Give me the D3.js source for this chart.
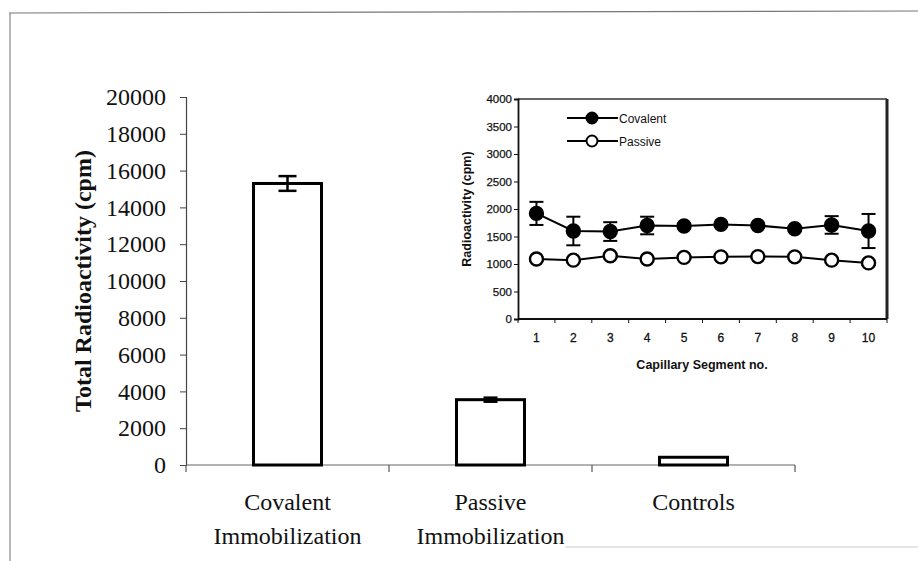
<!DOCTYPE html>
<html>
<head>
<meta charset="utf-8">
<script src="https://cdn.jsdelivr.net/npm/d3@7"></script>
<style>
  html, body { margin: 0; padding: 0; background: #fff; }
  svg { display: block; }
</style>
</head>
<body>
<svg id="chart" width="918" height="561"></svg>
<script>
// Main bar chart: total radioactivity per immobilization method
const barCategories = [["Covalent", "Immobilization"], ["Passive", "Immobilization"], ["Controls"]];
const barValues = [15300, 3550, 420];
const barErrors = [400, 110, 0];
const barTicks = [0, 2000, 4000, 6000, 8000, 10000, 12000, 14000, 16000, 18000, 20000];

// Inset: radioactivity along the capillary segments
const segments = [1, 2, 3, 4, 5, 6, 7, 8, 9, 10];
const covalentValues = [1920, 1600, 1590, 1700, 1690, 1720, 1700, 1640, 1710, 1600];
const covalentErrors = [210, 260, 170, 160, 40, 40, 40, 30, 160, 310];
const passiveValues = [1090, 1070, 1150, 1090, 1120, 1130, 1135, 1130, 1070, 1020];
const passiveErrors = [30, 30, 30, 30, 30, 30, 30, 30, 30, 30];
const insetTicks = [0, 500, 1000, 1500, 2000, 2500, 3000, 3500, 4000];

const svg = d3.select("#chart");
const serif = "'Liberation Serif', 'Times New Roman', serif";
const sans = "'Liberation Sans', Arial, sans-serif";

// Page frame
svg.append("line").attr("x1", 9).attr("x2", 918).attr("y1", 13).attr("y2", 11)
  .attr("stroke", "#777").attr("stroke-width", 1.2);
svg.append("line").attr("x1", 10).attr("x2", 10).attr("y1", 13).attr("y2", 561)
  .attr("stroke", "#888").attr("stroke-width", 1.2);
svg.append("line").attr("x1", 565).attr("x2", 918).attr("y1", 547).attr("y2", 547)
  .attr("stroke", "#e6e6e6").attr("stroke-width", 2);

// ---------- main chart ----------
const main = { left: 186, right: 795, top: 97, bottom: 465 };
const x = d3.scaleBand().domain(d3.range(barCategories.length))
  .range([main.left, main.right]).padding(0);
const y = d3.scaleLinear().domain([0, 20000]).range([main.bottom, main.top]);
const barW = x.bandwidth() * 0.335;

const yAxis = svg.append("g").attr("transform", `translate(${main.left},0)`)
  .call(d3.axisLeft(y).tickValues(barTicks).tickSize(6).tickPadding(14).tickFormat(d3.format("d")));
yAxis.select(".domain").attr("stroke", "#444").attr("stroke-width", 1.2);
yAxis.selectAll(".tick line").attr("stroke", "#444");
yAxis.selectAll("text").attr("font-family", serif).attr("font-size", 24).attr("fill", "#111");

const xAxis = svg.append("g").attr("transform", `translate(0,${main.bottom})`);
xAxis.append("line").attr("x1", main.left).attr("x2", main.right)
  .attr("stroke", "#666").attr("stroke-width", 1.2);
xAxis.selectAll("line.tk").data(d3.range(barCategories.length + 1)).join("line")
  .attr("class", "tk")
  .attr("x1", i => main.left + i * x.step()).attr("x2", i => main.left + i * x.step())
  .attr("y1", 0).attr("y2", 7).attr("stroke", "#555").attr("stroke-width", 1.2);

svg.selectAll("rect.bar").data(barValues).join("rect")
  .attr("class", "bar")
  .attr("x", (d, i) => x(i) + x.bandwidth() / 2 - barW / 2)
  .attr("y", d => y(d))
  .attr("width", barW)
  .attr("height", d => y(0) - y(d))
  .attr("fill", "#fff").attr("stroke", "#000").attr("stroke-width", 3);

const errG = svg.append("g").attr("stroke", "#000").attr("stroke-width", 2.5);
barValues.forEach((v, i) => {
  const e = barErrors[i];
  if (!e) return;
  const cx = x(i) + x.bandwidth() / 2;
  const cw = i === 0 ? 9 : 7;
  errG.append("line").attr("x1", cx).attr("x2", cx).attr("y1", y(v + e)).attr("y2", y(v - e));
  errG.append("line").attr("x1", cx - cw).attr("x2", cx + cw).attr("y1", y(v + e)).attr("y2", y(v + e));
  errG.append("line").attr("x1", cx - cw).attr("x2", cx + cw).attr("y1", y(v - e)).attr("y2", y(v - e));
});

barCategories.forEach((lines, i) => {
  const t = svg.append("text").attr("x", x(i) + x.bandwidth() / 2).attr("y", 510)
    .attr("text-anchor", "middle").attr("font-family", serif).attr("font-size", 24).attr("fill", "#111");
  lines.forEach((ln, k) => t.append("tspan").attr("x", x(i) + x.bandwidth() / 2).attr("dy", k ? 34 : 0).text(ln));
});

svg.append("text")
  .attr("transform", `translate(91,${(main.top + main.bottom) / 2}) rotate(-90)`)
  .attr("text-anchor", "middle").attr("font-family", serif).attr("font-size", 24)
  .attr("font-weight", "bold").attr("fill", "#111")
  .text("Total Radioactivity (cpm)");

// ---------- inset ----------
const ins = { left: 518, right: 887, top: 99, bottom: 319 };
const ix = d3.scaleBand().domain(segments).range([ins.left, ins.right]);
const iy = d3.scaleLinear().domain([0, 4000]).range([ins.bottom, ins.top]);
const g = svg.append("g");

// plot-area frame
g.append("line").attr("x1", ins.left).attr("x2", ins.right).attr("y1", ins.top).attr("y2", ins.top)
  .attr("stroke", "#333").attr("stroke-width", 1.5);
g.append("line").attr("x1", ins.right).attr("x2", ins.right).attr("y1", ins.top).attr("y2", ins.bottom)
  .attr("stroke", "#222").attr("stroke-width", 3);

const iyAxis = g.append("g").attr("transform", `translate(${ins.left},0)`)
  .call(d3.axisLeft(iy).tickValues(insetTicks).tickSize(4).tickPadding(2).tickFormat(d3.format("d")));
iyAxis.select(".domain").attr("stroke", "#111").attr("stroke-width", 1.8);
iyAxis.selectAll(".tick line").attr("stroke", "#111");
iyAxis.selectAll("text").attr("font-family", sans).attr("font-size", 11.5).attr("fill", "#111")
  .attr("stroke", "#111").attr("stroke-width", 0.25);

const ixAxis = g.append("g").attr("transform", `translate(0,${ins.bottom})`);
ixAxis.append("line").attr("x1", ins.left).attr("x2", ins.right).attr("stroke", "#111").attr("stroke-width", 1.8);
ixAxis.selectAll("line.tk").data(d3.range(segments.length + 1)).join("line")
  .attr("class", "tk")
  .attr("x1", i => ins.left + i * ix.step()).attr("x2", i => ins.left + i * ix.step())
  .attr("y1", 0).attr("y2", 4).attr("stroke", "#111");
ixAxis.selectAll("text").data(segments).join("text")
  .attr("x", d => ix(d) + ix.bandwidth() / 2).attr("y", 23)
  .attr("text-anchor", "middle").attr("font-family", sans).attr("font-size", 12)
  .attr("fill", "#111").attr("stroke", "#111").attr("stroke-width", 0.3).text(d => d);

g.append("text").attr("x", 702).attr("y", 369)
  .attr("text-anchor", "middle").attr("font-family", sans).attr("font-size", 12.5)
  .attr("font-weight", "bold").attr("fill", "#111").text("Capillary Segment no.");
g.append("text")
  .attr("transform", `translate(471,${(ins.top + ins.bottom) / 2}) rotate(-90)`)
  .attr("text-anchor", "middle").attr("font-family", sans).attr("font-size", 12.5)
  .attr("font-weight", "bold").attr("fill", "#111").text("Radioactivity (cpm)");

const cxOf = d => ix(d) + ix.bandwidth() / 2;
const line = (vals) => d3.line().x((d, i) => cxOf(segments[i])).y(d => iy(d))(vals);

function drawSeries(vals, errs, fill) {
  const eg = g.append("g").attr("stroke", "#000").attr("stroke-width", 2);
  vals.forEach((v, i) => {
    const cx = cxOf(segments[i]);
    eg.append("line").attr("x1", cx).attr("x2", cx).attr("y1", iy(v + errs[i])).attr("y2", iy(v - errs[i]));
    eg.append("line").attr("x1", cx - 7).attr("x2", cx + 7).attr("y1", iy(v + errs[i])).attr("y2", iy(v + errs[i]));
    eg.append("line").attr("x1", cx - 7).attr("x2", cx + 7).attr("y1", iy(v - errs[i])).attr("y2", iy(v - errs[i]));
  });
  g.append("path").attr("d", line(vals)).attr("fill", "none").attr("stroke", "#000").attr("stroke-width", 2);
  g.selectAll(null).data(vals).join("circle")
    .attr("cx", (d, i) => cxOf(segments[i])).attr("cy", d => iy(d)).attr("r", 6.5)
    .attr("fill", fill).attr("stroke", "#000").attr("stroke-width", 2.4);
}
drawSeries(covalentValues, covalentErrors, "#000");
drawSeries(passiveValues, passiveErrors, "#fff");

// legend
const legend = [["Covalent", "#000", 118], ["Passive", "#fff", 141]];
legend.forEach(([name, fill, ly]) => {
  g.append("line").attr("x1", 567).attr("x2", 618).attr("y1", ly).attr("y2", ly)
    .attr("stroke", "#000").attr("stroke-width", 2);
  g.append("circle").attr("cx", 592).attr("cy", ly).attr("r", 5.5)
    .attr("fill", fill).attr("stroke", "#000").attr("stroke-width", 2);
  g.append("text").attr("x", 619).attr("y", ly + 4.5).attr("font-family", sans).attr("font-size", 12)
    .attr("fill", "#111").text(name);
});
</script>
</body>
</html>
